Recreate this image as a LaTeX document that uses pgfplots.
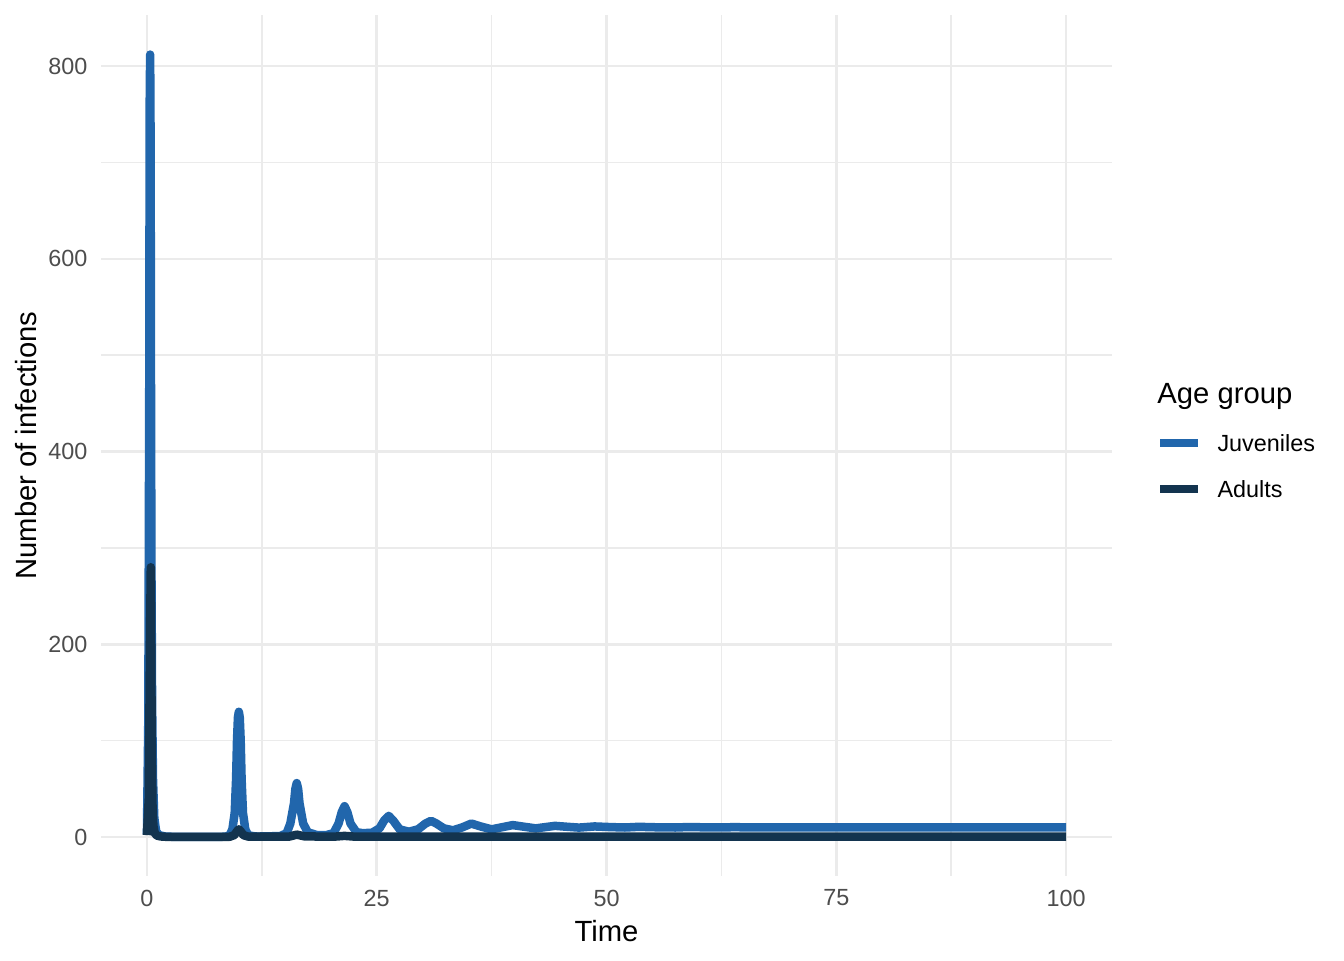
\documentclass[border=0pt]{standalone}
\usepackage{fontspec}
\setmainfont{Liberation Sans}
\usepackage{pgfplots}
\pgfplotsset{compat=1.18}
\usepackage{pgfplotstable}

\definecolor{juvcol}{HTML}{2166AC}
\definecolor{adcol}{HTML}{13344F}
\definecolor{gridcol}{HTML}{EBEBEB}
\definecolor{tickcol}{HTML}{4D4D4D}

% juvenile infections over time
\pgfplotstableread{
t v
0 3
0.15 120
0.25 450
0.30 760
0.35 812
0.40 720
0.44 480
0.49 280
0.56 140
0.66 60
0.8 20
1.0 6
1.3 2
2 0.5
3 0.2
8 0.2
8.6 0.5
9.0 2
9.3 8
9.55 25
9.7 60
9.8 100
9.9 124
10.0 130
10.1 124
10.2 100
10.3 60
10.45 25
10.7 8
11.0 2
11.5 1
12 0.5
14.5 1
15.2 4
15.6 14
16.0 35
16.15 50
16.3 56
16.45 50
16.6 35
17.0 14
17.5 5
18.5 2
19.5 2
20.3 4
20.85 14
21.2 26
21.5 32
21.8 26
22.15 14
22.8 5
23.5 4
24.5 4.5
25.3 9
25.8 17
26.3 22
26.8 17
27.5 8
28.5 5.5
29.5 8
30.3 14
30.9 16.8
31.5 14
32.3 9
33.3 7
34.3 10
35.3 14
36.3 11
37.5 8
38.8 10.5
39.8 12.4
40.8 11
42.3 9
43.5 10.5
44.4 11.6
45.5 10.8
47 9.8
48.7 11
50.5 10.3
52 9.9
53.5 10.6
55.5 10.1
57.5 9.9
59 10.4
61 10
64 10.2
67 10
70 10.1
75 10
80 10
90 10
100 10
}\juvtable

% adult infections over time
\pgfplotstableread{
t v
0 2
0.2 40
0.33 200
0.42 280
0.47 200
0.52 100
0.6 35
0.7 12
0.85 4
1.1 1.5
1.5 0.6
2 0.3
9.0 0.3
9.5 2
9.8 6
10.0 8
10.2 6
10.5 2
11 0.5
15.5 0.5
16.3 2.5
17.2 0.6
20.5 0.5
21.5 1.2
22.5 0.5
100 0.5
}\adtable

\begin{document}
\begin{tikzpicture}
\path[use as bounding box] (-38pt,-31.65pt) rectangle (467.8pt,329.7pt);
\begin{axis}[
  scale only axis,
  width=380.5pt, height=324pt,
  xmin=-5, xmax=105,
  ymin=-40.5, ymax=852.9,
  xtick={0,25,50,75,100},
  ytick={0,200,400,600,800},
  minor xtick={12.5,37.5,62.5,87.5},
  minor ytick={100,300,500,700},
  grid=both,
  major grid style={draw=gridcol, line width=1pt},
  minor grid style={draw=gridcol, line width=0.55pt},
  axis line style={draw=none},
  tick style={draw=none},
  /pgf/number format/assume math mode=true,
  tick label style={font=\fontsize{8.8pt}{10pt}\selectfont, text=tickcol, inner sep=0pt},
  xticklabel style={anchor=north, yshift=-5pt},
  yticklabel style={anchor=east, xshift=-4.9pt},
  clip=false,
]
\addplot[juvcol, line width=3.2pt, line join=round, line cap=butt] table[x=t, y=v] {\juvtable};
\addplot[adcol, line width=3.2pt, line join=round, line cap=butt] table[x=t, y=v] {\adtable};
\end{axis}

% axis titles
\node[anchor=base, font=\fontsize{11pt}{13pt}\selectfont] at (190.25pt,-24.5pt) {Time};
\node[anchor=base, rotate=90, font=\fontsize{11pt}{13pt}\selectfont] at (-24.1pt,162pt) {Number of infections};

% legend
\node[anchor=base west, inner sep=0pt, font=\fontsize{11pt}{13pt}\selectfont] at (397.4pt,178pt) {Age group};
\draw[juvcol, line width=3.2pt] (398.6pt,163pt) -- (412.9pt,163pt);
\node[anchor=base west, inner sep=0pt, font=\fontsize{8.8pt}{10pt}\selectfont] at (420pt,159.6pt) {Juveniles};
\draw[adcol, line width=3.2pt] (398.6pt,145.7pt) -- (412.9pt,145.7pt);
\node[anchor=base west, inner sep=0pt, font=\fontsize{8.8pt}{10pt}\selectfont] at (420pt,142.3pt) {Adults};
\end{tikzpicture}
\end{document}
